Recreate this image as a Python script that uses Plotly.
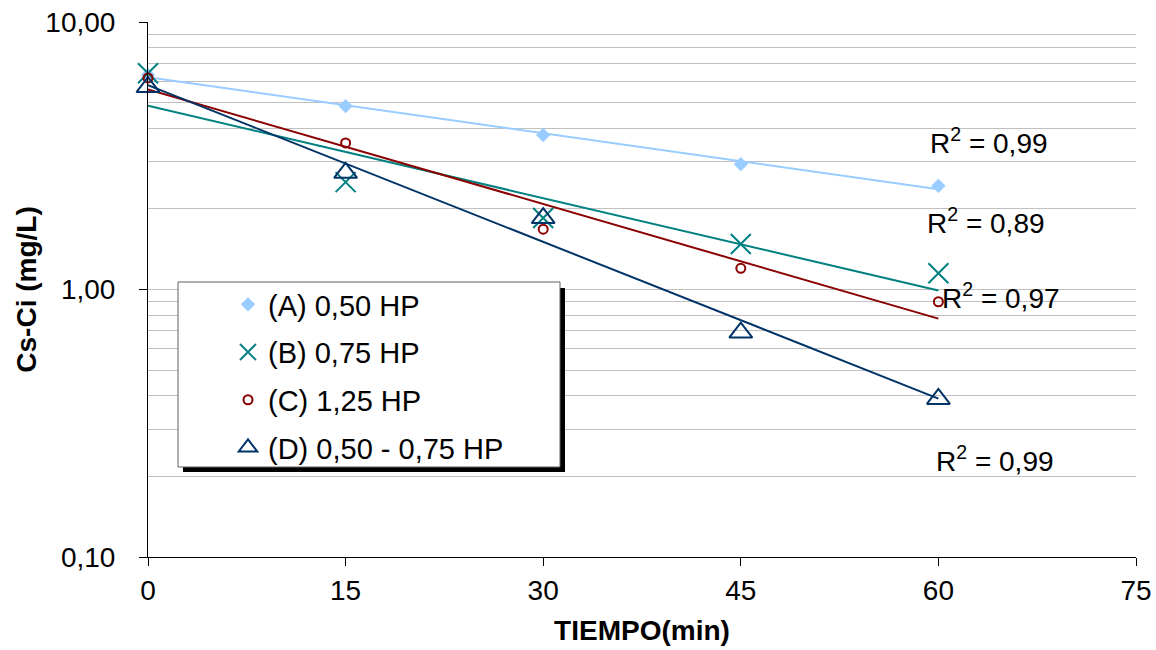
import numpy as np
import plotly.graph_objects as go

# Sampling times (min)
tiempo = [0, 15, 30, 45, 60]

# Cs-Ci (mg/L) for each aeration setting
serie_a = [6.34, 4.85, 3.78, 2.94, 2.44]
serie_b = [6.43, 2.52, 1.85, 1.48, 1.15]
serie_c = [6.18, 3.53, 1.68, 1.20, 0.90]
serie_d = [5.71, 2.73, 1.85, 0.69, 0.39]

nombres = ["(A) 0,50 HP", "(B) 0,75 HP", "(C) 1,25 HP", "(D) 0,50 - 0,75 HP"]
r2_textos = ["0,99", "0,89", "0,97", "0,99"]

y_ticks = [0.1, 1, 10]
y_ticktext = ["0,10", "1,00", "10,00"]
x_ticks = [0, 15, 30, 45, 60, 75]

FONT = "Liberation Sans, Arial, sans-serif"

colores = ["#99CCFF", "#008080", "#8B0000", "#003366"]
simbolos = ["diamond", "x-thin-open", "circle-open", "triangle-up-open"]
tamanos = [11, 20, 9, 20]

# plot area in pixels (for placing the legend frame)
L, R, T, B = 148, 1136, 22, 557
W, H = 1156, 650


def px_x(p):
    return (p - L) / (R - L)


def px_y(p):
    return (B - p) / (B - T)


fig = go.Figure()

series = [serie_a, serie_b, serie_c, serie_d]
t = np.array(tiempo, dtype=float)

# exponential trend lines (least squares on ln y)
for i, ys in enumerate(series):
    k, b = np.polyfit(t, np.log(ys), 1)
    xt = np.array([t.min(), t.max()])
    fig.add_trace(go.Scatter(
        x=xt, y=np.exp(b + k * xt), mode="lines",
        line=dict(color=colores[i], width=2),
        showlegend=False, hoverinfo="skip",
    ))

# measured points
for i, ys in enumerate(series):
    mk = dict(symbol=simbolos[i], size=tamanos[i], color=colores[i],
              line=dict(color=colores[i], width=2))
    if simbolos[i] == "diamond":
        mk["line"] = dict(width=0)
    fig.add_trace(go.Scatter(
        x=tiempo, y=ys, mode="markers", name=nombres[i],
        marker=mk, cliponaxis=False, legendgroup=f"g{i}",
    ))

# R² labels next to each trend line
r2_pos = [(59.2, 3.6), (59.0, 1.8), (60.1, 0.945), (59.7, 0.233)]
for (xv, yv), txt in zip(r2_pos, r2_textos):
    fig.add_annotation(
        x=xv, y=np.log10(yv), xref="x", yref="y",
        text=f"R<sup>2</sup> = {txt}", showarrow=False,
        xanchor="left", yanchor="middle",
        font=dict(family=FONT, size=28, color="#000000"),
    )

# legend frame with drop shadow
fig.add_shape(type="rect", xref="paper", yref="paper",
              x0=px_x(183), x1=px_x(565), y0=px_y(472), y1=px_y(288),
              fillcolor="#000000", line=dict(width=0), layer="above")
fig.add_shape(type="rect", xref="paper", yref="paper",
              x0=px_x(178), x1=px_x(560), y0=px_y(467), y1=px_y(282),
              fillcolor="#FFFFFF", line=dict(color="#606060", width=1),
              layer="above")

fig.update_layout(
    width=W, height=H,
    margin=dict(l=L, r=W - R, t=T, b=H - B, autoexpand=False),
    paper_bgcolor="#FFFFFF", plot_bgcolor="#FFFFFF",
    font=dict(family=FONT, size=28, color="#000000"),
    showlegend=True,
    legend=dict(
        x=px_x(228), y=px_y(279), xanchor="left", yanchor="top",
        bgcolor="rgba(0,0,0,0)", borderwidth=0,
        font=dict(family=FONT, size=29, color="#000000"),
        traceorder="grouped", tracegroupgap=7,
    ),
    xaxis=dict(
        range=[0, 75], tickvals=x_ticks, ticktext=[str(v) for v in x_ticks],
        showgrid=False, zeroline=False, automargin=False,
        showline=True, linecolor="#000000", linewidth=1,
        ticks="outside", ticklen=8, tickcolor="#000000",
        tickfont=dict(family=FONT, size=28),
        title=dict(text="<b>TIEMPO(min)</b>", standoff=15,
                   font=dict(family=FONT, size=28)),
    ),
    yaxis=dict(
        type="log", range=[-1, 1], automargin=False,
        tickvals=y_ticks, ticktext=y_ticktext,
        showgrid=True, gridcolor="#C0C0C0", gridwidth=1,
        zeroline=False,
        showline=True, linecolor="#000000", linewidth=1,
        ticks="outside", ticklen=8, tickcolor="#000000",
        tickfont=dict(family=FONT, size=28),
        ticklabelstandoff=18,
        minor=dict(
            tickvals=[0.2, 0.3, 0.4, 0.5, 0.6, 0.7, 0.8, 0.9,
                      2, 3, 4, 5, 6, 7, 8, 9],
            showgrid=True, gridcolor="#C0C0C0", gridwidth=1, ticks="",
        ),
        title=dict(text="<b>Cs-Ci (mg/L)</b>", standoff=0,
                   font=dict(family=FONT, size=28)),
    ),
)

fig.write_html("out.html")
